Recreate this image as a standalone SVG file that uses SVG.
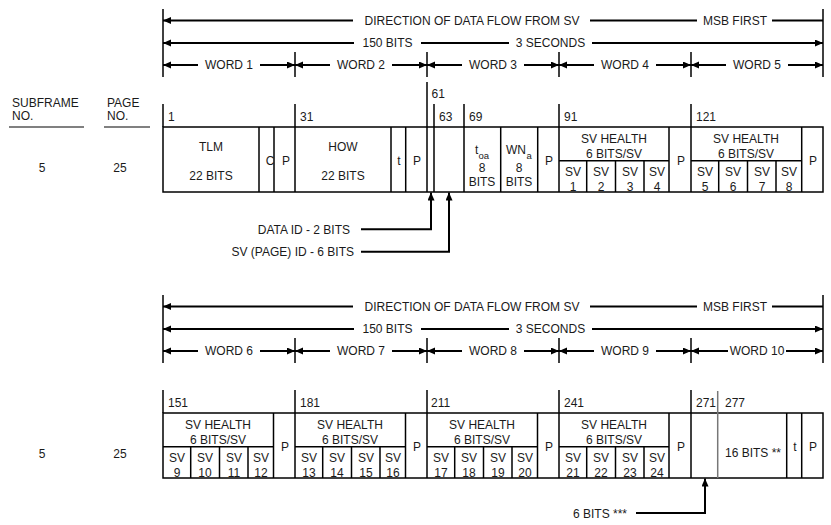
<svg xmlns="http://www.w3.org/2000/svg" width="831" height="525" viewBox="0 0 831 525">
<defs>
<marker id="ah" markerUnits="userSpaceOnUse" markerWidth="9" markerHeight="8" refX="8" refY="3.5" orient="auto-start-reverse">
<path d="M0,0 L8,3.5 L0,7 z" fill="#000"/>
</marker>
<style>
text{font-family:"Liberation Sans",Arial,sans-serif;font-size:12px;fill:#1a1a1a}
.m{text-anchor:middle}
.sub{font-size:9.5px}
.a{stroke:#000;stroke-width:2;fill:none}
.al{stroke:#000;stroke-width:2;fill:none;marker-start:url(#ah)}
.ar{stroke:#000;stroke-width:2;fill:none;marker-end:url(#ah)}
.v{stroke:#000;stroke-width:1.5}
.g{stroke:#777;stroke-width:1.5}
.c{fill:#fff;stroke:#000;stroke-width:1.5}
.u{stroke:#808080;stroke-width:2}
</style>
</defs>
<rect width="831" height="525" fill="#fff"/>

<g id="labels-left">
<text x="12" y="107">SUBFRAME</text>
<text x="12" y="120">NO.</text>
<line class="u" x1="9" y1="127" x2="84" y2="127"/>
<text x="107" y="107">PAGE</text>
<text x="107" y="120">NO.</text>
<line class="u" x1="104" y1="127" x2="150" y2="127"/>
<text class="m" x="42" y="172">5</text>
<text class="m" x="120" y="172">25</text>
<text class="m" x="42" y="458">5</text>
<text class="m" x="120" y="458">25</text>
</g>

<g id="header-top">
<line class="v" x1="163" y1="9" x2="163" y2="77"/>
<line class="v" x1="823" y1="9" x2="823" y2="77"/>
<line class="v" x1="295" y1="52" x2="295" y2="77"/>
<line class="v" x1="427" y1="52" x2="427" y2="77"/>
<line class="v" x1="559" y1="52" x2="559" y2="77"/>
<line class="v" x1="691" y1="52" x2="691" y2="77"/>
<line class="al" x1="163" y1="20.5" x2="353" y2="20.5"/>
<text class="m" x="472" y="25">DIRECTION OF DATA FLOW FROM SV</text>
<line class="a" x1="590" y1="20.5" x2="697" y2="20.5"/>
<text class="m" x="735" y="25">MSB FIRST</text>
<line class="a" x1="772" y1="20.5" x2="823" y2="20.5"/>
<line class="al" x1="163" y1="43" x2="354" y2="43"/>
<text class="m" x="387.5" y="47.3">150 BITS</text>
<line class="a" x1="421" y1="43" x2="509" y2="43"/>
<text class="m" x="550.5" y="47.3">3 SECONDS</text>
<line class="ar" x1="592" y1="43" x2="823" y2="43"/>
<line class="al" x1="163" y1="65" x2="198" y2="65"/>
<text class="m" x="229" y="69.3">WORD 1</text>
<line class="ar" x1="260" y1="65" x2="295" y2="65"/>
<line class="al" x1="295" y1="65" x2="330" y2="65"/>
<text class="m" x="361" y="69.3">WORD 2</text>
<line class="ar" x1="392" y1="65" x2="427" y2="65"/>
<line class="al" x1="427" y1="65" x2="462" y2="65"/>
<text class="m" x="493" y="69.3">WORD 3</text>
<line class="ar" x1="524" y1="65" x2="559" y2="65"/>
<line class="al" x1="559" y1="65" x2="594" y2="65"/>
<text class="m" x="625" y="69.3">WORD 4</text>
<line class="ar" x1="656" y1="65" x2="691" y2="65"/>
<line class="al" x1="691" y1="65" x2="726" y2="65"/>
<text class="m" x="757" y="69.3">WORD 5</text>
<line class="ar" x1="788" y1="65" x2="823" y2="65"/>
</g>

<g id="table-top">
<rect class="c" x="163" y="127" width="660" height="65"/>
<line class="v" x1="163" y1="104" x2="163" y2="127"/>
<line class="v" x1="295" y1="104" x2="295" y2="192"/>
<line class="v" x1="427" y1="82" x2="427" y2="192"/>
<line class="v" x1="434" y1="104" x2="434" y2="192"/>
<line class="v" x1="464" y1="104" x2="464" y2="192"/>
<line class="v" x1="559" y1="104" x2="559" y2="192"/>
<line class="v" x1="691" y1="104" x2="691" y2="192"/>
<line class="v" x1="259" y1="127" x2="259" y2="192"/>
<line class="v" x1="274" y1="127" x2="274" y2="192"/>
<line class="v" x1="391" y1="127" x2="391" y2="192"/>
<line class="v" x1="405.7" y1="127" x2="405.7" y2="192"/>
<line class="v" x1="500.7" y1="127" x2="500.7" y2="192"/>
<line class="v" x1="537.7" y1="127" x2="537.7" y2="192"/>
<line class="v" x1="669" y1="127" x2="669" y2="192"/>
<line class="v" x1="801.7" y1="127" x2="801.7" y2="192"/>
<line class="v" x1="559" y1="160.7" x2="669" y2="160.7"/>
<line class="v" x1="586.7" y1="160.7" x2="586.7" y2="192"/>
<line class="v" x1="615.5" y1="160.7" x2="615.5" y2="192"/>
<line class="v" x1="644" y1="160.7" x2="644" y2="192"/>
<line class="v" x1="691" y1="160.7" x2="801.7" y2="160.7"/>
<line class="v" x1="718.7" y1="160.7" x2="718.7" y2="192"/>
<line class="v" x1="747.5" y1="160.7" x2="747.5" y2="192"/>
<line class="v" x1="776" y1="160.7" x2="776" y2="192"/>
<text x="168" y="120.5">1</text>
<text x="300" y="120.5">31</text>
<text x="431.5" y="98.3">61</text>
<text x="439" y="120.5">63</text>
<text x="469" y="120.5">69</text>
<text x="564" y="120.5">91</text>
<text x="696" y="120.5">121</text>
<text class="m" x="211" y="151">TLM</text>
<text class="m" x="211" y="180">22 BITS</text>
<text class="m" x="270" y="165">C</text>
<text class="m" x="286" y="165">P</text>
<text class="m" x="343" y="151">HOW</text>
<text class="m" x="343" y="180">22 BITS</text>
<text class="m" x="399" y="165">t</text>
<text class="m" x="417" y="165">P</text>
<text x="475" y="153.5">t</text><text class="sub" x="478.5" y="158.5">oa</text>
<text class="m" x="482" y="171.5">8</text>
<text class="m" x="482" y="186">BITS</text>
<text x="506" y="154">WN</text><text class="sub" x="526.5" y="159">a</text>
<text class="m" x="519" y="171.5">8</text>
<text class="m" x="519" y="186">BITS</text>
<text class="m" x="549" y="165">P</text>
<text class="m" x="614" y="143">SV HEALTH</text>
<text class="m" x="614" y="157.5">6 BITS/SV</text>
<text class="m" x="573" y="176">SV</text><text class="m" x="573" y="191">1</text>
<text class="m" x="601" y="176">SV</text><text class="m" x="601" y="191">2</text>
<text class="m" x="630" y="176">SV</text><text class="m" x="630" y="191">3</text>
<text class="m" x="657" y="176">SV</text><text class="m" x="657" y="191">4</text>
<text class="m" x="681" y="165">P</text>
<text class="m" x="746" y="143">SV HEALTH</text>
<text class="m" x="746" y="157.5">6 BITS/SV</text>
<text class="m" x="705" y="176">SV</text><text class="m" x="705" y="191">5</text>
<text class="m" x="733" y="176">SV</text><text class="m" x="733" y="191">6</text>
<text class="m" x="762" y="176">SV</text><text class="m" x="762" y="191">7</text>
<text class="m" x="789" y="176">SV</text><text class="m" x="789" y="191">8</text>
<text class="m" x="813" y="165">P</text>
</g>

<g id="header-bottom">
<line class="v" x1="163" y1="295" x2="163" y2="363"/>
<line class="v" x1="823" y1="295" x2="823" y2="363"/>
<line class="v" x1="295" y1="338" x2="295" y2="363"/>
<line class="v" x1="427" y1="338" x2="427" y2="363"/>
<line class="v" x1="559" y1="338" x2="559" y2="363"/>
<line class="v" x1="691" y1="338" x2="691" y2="363"/>
<line class="al" x1="163" y1="306.5" x2="353" y2="306.5"/>
<text class="m" x="472" y="311">DIRECTION OF DATA FLOW FROM SV</text>
<line class="a" x1="590" y1="306.5" x2="697" y2="306.5"/>
<text class="m" x="735" y="311">MSB FIRST</text>
<line class="a" x1="772" y1="306.5" x2="823" y2="306.5"/>
<line class="al" x1="163" y1="329" x2="354" y2="329"/>
<text class="m" x="387.5" y="333.3">150 BITS</text>
<line class="a" x1="421" y1="329" x2="509" y2="329"/>
<text class="m" x="550.5" y="333.3">3 SECONDS</text>
<line class="ar" x1="592" y1="329" x2="823" y2="329"/>
<line class="al" x1="163" y1="351" x2="198" y2="351"/>
<text class="m" x="229" y="355.3">WORD 6</text>
<line class="ar" x1="260" y1="351" x2="295" y2="351"/>
<line class="al" x1="295" y1="351" x2="330" y2="351"/>
<text class="m" x="361" y="355.3">WORD 7</text>
<line class="ar" x1="392" y1="351" x2="427" y2="351"/>
<line class="al" x1="427" y1="351" x2="462" y2="351"/>
<text class="m" x="493" y="355.3">WORD 8</text>
<line class="ar" x1="524" y1="351" x2="559" y2="351"/>
<line class="al" x1="559" y1="351" x2="594" y2="351"/>
<text class="m" x="625" y="355.3">WORD 9</text>
<line class="ar" x1="656" y1="351" x2="691" y2="351"/>
<line class="al" x1="691" y1="351" x2="728" y2="351"/>
<text class="m" x="757" y="355.3">WORD 10</text>
<line class="ar" x1="786" y1="351" x2="823" y2="351"/>
</g>

<g id="table-bottom">
<rect class="c" x="163" y="413" width="660" height="65"/>
<line class="v" x1="163" y1="390" x2="163" y2="413"/>
<line class="v" x1="295" y1="390" x2="295" y2="478"/>
<line class="v" x1="427" y1="390" x2="427" y2="478"/>
<line class="v" x1="559" y1="390" x2="559" y2="478"/>
<line class="v" x1="691" y1="390" x2="691" y2="478"/>
<line class="g" x1="717.7" y1="391" x2="717.7" y2="478"/>
<line class="v" x1="273.5" y1="413" x2="273.5" y2="478"/>
<line class="v" x1="405.5" y1="413" x2="405.5" y2="478"/>
<line class="v" x1="537.5" y1="413" x2="537.5" y2="478"/>
<line class="v" x1="669" y1="413" x2="669" y2="478"/>
<line class="v" x1="786.7" y1="413" x2="786.7" y2="478"/>
<line class="v" x1="801.7" y1="413" x2="801.7" y2="478"/>
<line class="v" x1="163" y1="446.7" x2="273.5" y2="446.7"/>
<line class="v" x1="190.7" y1="446.7" x2="190.7" y2="478"/>
<line class="v" x1="219.5" y1="446.7" x2="219.5" y2="478"/>
<line class="v" x1="248" y1="446.7" x2="248" y2="478"/>
<line class="v" x1="295" y1="446.7" x2="405.5" y2="446.7"/>
<line class="v" x1="322.7" y1="446.7" x2="322.7" y2="478"/>
<line class="v" x1="351.5" y1="446.7" x2="351.5" y2="478"/>
<line class="v" x1="380" y1="446.7" x2="380" y2="478"/>
<line class="v" x1="427" y1="446.7" x2="537.5" y2="446.7"/>
<line class="v" x1="454.7" y1="446.7" x2="454.7" y2="478"/>
<line class="v" x1="483.5" y1="446.7" x2="483.5" y2="478"/>
<line class="v" x1="512" y1="446.7" x2="512" y2="478"/>
<line class="v" x1="559" y1="446.7" x2="669" y2="446.7"/>
<line class="v" x1="586.7" y1="446.7" x2="586.7" y2="478"/>
<line class="v" x1="615.5" y1="446.7" x2="615.5" y2="478"/>
<line class="v" x1="644" y1="446.7" x2="644" y2="478"/>
<text x="168" y="406.5">151</text>
<text x="300" y="406.5">181</text>
<text x="431" y="406.5">211</text>
<text x="564" y="406.5">241</text>
<text x="696" y="406.5">271</text>
<text x="725" y="406.5">277</text>
<text class="m" x="218" y="429">SV HEALTH</text>
<text class="m" x="218" y="443.5">6 BITS/SV</text>
<text class="m" x="177" y="462">SV</text><text class="m" x="177" y="477">9</text>
<text class="m" x="205" y="462">SV</text><text class="m" x="205" y="477">10</text>
<text class="m" x="234" y="462">SV</text><text class="m" x="234" y="477">11</text>
<text class="m" x="261" y="462">SV</text><text class="m" x="261" y="477">12</text>
<text class="m" x="285" y="451">P</text>
<text class="m" x="350" y="429">SV HEALTH</text>
<text class="m" x="350" y="443.5">6 BITS/SV</text>
<text class="m" x="309" y="462">SV</text><text class="m" x="309" y="477">13</text>
<text class="m" x="337" y="462">SV</text><text class="m" x="337" y="477">14</text>
<text class="m" x="366" y="462">SV</text><text class="m" x="366" y="477">15</text>
<text class="m" x="393" y="462">SV</text><text class="m" x="393" y="477">16</text>
<text class="m" x="417" y="451">P</text>
<text class="m" x="482" y="429">SV HEALTH</text>
<text class="m" x="482" y="443.5">6 BITS/SV</text>
<text class="m" x="441" y="462">SV</text><text class="m" x="441" y="477">17</text>
<text class="m" x="469" y="462">SV</text><text class="m" x="469" y="477">18</text>
<text class="m" x="498" y="462">SV</text><text class="m" x="498" y="477">19</text>
<text class="m" x="525" y="462">SV</text><text class="m" x="525" y="477">20</text>
<text class="m" x="549" y="451">P</text>
<text class="m" x="614" y="429">SV HEALTH</text>
<text class="m" x="614" y="443.5">6 BITS/SV</text>
<text class="m" x="573" y="462">SV</text><text class="m" x="573" y="477">21</text>
<text class="m" x="601" y="462">SV</text><text class="m" x="601" y="477">22</text>
<text class="m" x="630" y="462">SV</text><text class="m" x="630" y="477">23</text>
<text class="m" x="657" y="462">SV</text><text class="m" x="657" y="477">24</text>
<text class="m" x="681" y="451">P</text>
<text class="m" x="753" y="456.7">16 BITS **</text>
<text class="m" x="795" y="451">t</text>
<text class="m" x="813" y="451">P</text>
</g>

<g id="connectors">
<path class="ar" d="M361,229.3 H431 V192.5"/>
<text x="350" y="234" text-anchor="end">DATA ID - 2 BITS</text>
<path class="ar" d="M361,251.7 H449 V192.5"/>
<text x="354" y="255.5" text-anchor="end">SV (PAGE) ID - 6 BITS</text>
<path class="ar" d="M636,513 H705 V478.5"/>
<text x="627" y="517.5" text-anchor="end">6 BITS ***</text>
</g>
</svg>
